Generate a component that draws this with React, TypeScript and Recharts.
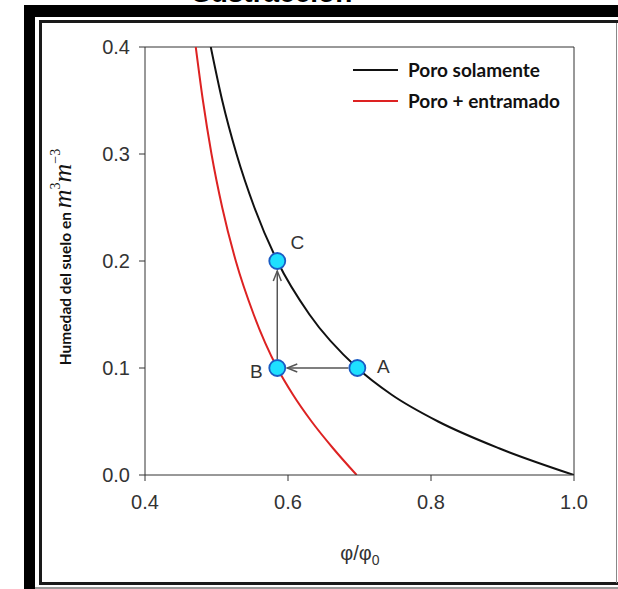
import { ComposedChart, Line, Scatter, XAxis, YAxis, ReferenceLine } from "recharts";

// curve samples (phi/phi0 vs soil moisture)
const blackPhi = [0.492, 0.508, 0.528, 0.553, 0.585, 0.63, 0.697, 0.745, 0.81, 0.895, 1.0];
const blackTheta = [0.4, 0.35, 0.3, 0.25, 0.2, 0.15, 0.1, 0.075, 0.05, 0.025, 0.0];
const redPhi = [0.471, 0.481, 0.493, 0.508, 0.527, 0.552, 0.585, 0.607, 0.633, 0.663, 0.696];
const redTheta = [0.4, 0.35, 0.3, 0.25, 0.2, 0.15, 0.1, 0.075, 0.05, 0.025, 0.0];

const pointNames = ["A", "B", "C"];
const pointPhi = [0.697, 0.585, 0.585];
const pointTheta = [0.1, 0.1, 0.2];

const arrowFrom = ["A", "B"];
const arrowTo = ["B", "C"];

const xTicks = [0.4, 0.6, 0.8, 1.0];
const yTicks = [0, 0.1, 0.2, 0.3, 0.4];

const seriesNames = ["Poro solamente", "Poro + entramado"];
const seriesColors = ["#111111", "#dd2222"];

const toRows = (xs: number[], ys: number[]) =>
  xs.map((x, i) => ({ x, y: ys[i] })).sort((a, b) => a.x - b.x);

const blackData = toRows(blackPhi, blackTheta);
const redData = toRows(redPhi, redTheta);
const points = pointNames.map((name, i) => ({ name, x: pointPhi[i], y: pointTheta[i] }));
const pointOf = (n: string) => points.find((p) => p.name === n)!;

const labelOffset: Record<string, [number, number]> = {
  A: [26, -2],
  B: [-21, 3],
  C: [20, -19],
};

const font = "'Liberation Sans', Arial, sans-serif";
const serif = "'Liberation Serif', serif";

const PointShape = (props: any) => {
  const { cx, cy, payload } = props;
  const off = labelOffset[payload.name];
  return (
    <g>
      <circle cx={cx} cy={cy} r={8} fill="#1ee0ff" stroke="#1a5cc4" strokeWidth={1.8} />
      <text
        x={cx + off[0]}
        y={cy + off[1]}
        textAnchor="middle"
        dominantBaseline="central"
        fontSize={19}
        fontFamily={font}
        fill="#333"
      >
        {payload.name}
      </text>
    </g>
  );
};

const Arrow = (props: any) => {
  const { x1, y1, x2, y2 } = props;
  const dx = x2 - x1;
  const dy = y2 - y1;
  const len = Math.hypot(dx, dy) || 1;
  const ux = dx / len;
  const uy = dy / len;
  const sx = x1 + ux * 9;
  const sy = y1 + uy * 9;
  const ex = x2 - ux * 10;
  const ey = y2 - uy * 10;
  const hx = ex - ux * 10;
  const hy = ey - uy * 10;
  const px = -uy * 4;
  const py = ux * 4;
  return (
    <g>
      <line x1={sx} y1={sy} x2={ex} y2={ey} stroke="#555" strokeWidth={1.5} />
      <polyline
        points={`${hx + px},${hy + py} ${ex},${ey} ${hx - px},${hy - py}`}
        fill="none"
        stroke="#555"
        strokeWidth={1.5}
      />
    </g>
  );
};

const YLabel = () => (
  <text
    x={71}
    y={257}
    transform="rotate(-90, 71, 257)"
    textAnchor="middle"
    fill="#111"
    fontFamily="Lato, 'Open Sans', sans-serif"
    fontWeight={700}
    fontSize={15.5}
  >
    Humedad del suelo en{" "}
    <tspan fontFamily={serif} fontStyle="italic" fontWeight={400} fontSize={26}>
      m
    </tspan>
    <tspan fontFamily={serif} fontWeight={400} fontSize={14} dy={-11}>
      3
    </tspan>
    <tspan fontFamily={serif} fontStyle="italic" fontWeight={400} fontSize={26} dy={11}>
      m
    </tspan>
    <tspan fontFamily={serif} fontWeight={400} fontSize={14} dy={-11}>
      −3
    </tspan>
  </text>
);

const XLabel = () => (
  <text x={360} y={560} textAnchor="middle" fill="#333" fontFamily={font} fontSize={20}>
    φ/φ
    <tspan fontSize={14} dy={5}>
      0
    </tspan>
  </text>
);

const LegendBox = () => (
  <div
    style={{
      position: "absolute",
      left: 353,
      top: 54,
      fontFamily: "Lato, 'Open Sans', sans-serif",
      fontWeight: 700,
      fontSize: 19,
      color: "#111",
    }}
  >
    {seriesNames.map((n, i) => (
      <div key={n} style={{ display: "flex", alignItems: "center", height: 31 }}>
        <span style={{ display: "inline-block", width: 45, height: 2, background: seriesColors[i], marginRight: 10 }} />
        <span>{n}</span>
      </div>
    ))}
  </div>
);

export default function App() {
  return (
    <div style={{ position: "absolute", left: 0, top: 0, width: 618, height: 589, overflow: "hidden", background: "#fff" }}>
      <div
        style={{
          position: "absolute",
          left: 192,
          top: -21,
          fontFamily: font,
          fontWeight: 700,
          fontSize: 28,
          lineHeight: "28px",
          color: "#000",
        }}
      >
        Sustracción
      </div>
      <div style={{ position: "absolute", left: 24, top: 5, width: 620, height: 600, background: "#000" }} />
      <div style={{ position: "absolute", left: 35, top: 17, width: 600, height: 570, background: "#fff" }} />
      <div style={{ position: "absolute", left: 35, top: 587, width: 600, height: 2, background: "#999" }} />
      <div
        style={{
          position: "absolute",
          left: 39,
          top: 20,
          width: 600,
          height: 565,
          borderTop: "3px solid #1a1a1a",
          borderLeft: "3px solid #1a1a1a",
          borderBottom: "3px solid #1a1a1a",
          boxSizing: "border-box",
          background: "#fff",
        }}
      />
      <div style={{ position: "absolute", left: 616, top: 23, width: 1, height: 560, background: "#888" }} />
      <div style={{ position: "absolute", left: 0, top: 0 }}>
        <ComposedChart width={618} height={589} margin={{ top: 47, right: 44, bottom: 84, left: 85 }}>
          <XAxis
            type="number"
            dataKey="x"
            domain={[0.4, 1.0]}
            ticks={xTicks}
            tickFormatter={(v: number) => v.toFixed(1)}
            tick={{ fontSize: 20, fill: "#333", fontFamily: font }}
            tickSize={6}
            tickMargin={14}
            stroke="#333"
            height={30}
            allowDataOverflow
            label={{ content: XLabel }}
          />
          <YAxis
            type="number"
            dataKey="y"
            domain={[0, 0.4]}
            ticks={yTicks}
            tickFormatter={(v: number) => v.toFixed(1)}
            tick={{ fontSize: 20, fill: "#333", fontFamily: font }}
            tickSize={6}
            tickMargin={9}
            stroke="#333"
            width={60}
            allowDataOverflow
            label={{ content: YLabel }}
          />
          <ReferenceLine y={0.4} stroke="#333" />
          <ReferenceLine x={1.0} stroke="#333" />
          <Line
            data={blackData}
            dataKey="y"
            name={seriesNames[0]}
            type="monotone"
            stroke={seriesColors[0]}
            strokeWidth={2}
            dot={false}
            activeDot={false}
            isAnimationActive={false}
          />
          <Line
            data={redData}
            dataKey="y"
            name={seriesNames[1]}
            type="monotone"
            stroke={seriesColors[1]}
            strokeWidth={2}
            dot={false}
            activeDot={false}
            isAnimationActive={false}
          />
          {arrowFrom.map((f, i) => {
            const a = pointOf(f);
            const b = pointOf(arrowTo[i]);
            return (
              <ReferenceLine
                key={f + arrowTo[i]}
                segment={[
                  { x: a.x, y: a.y },
                  { x: b.x, y: b.y },
                ]}
                shape={Arrow}
              />
            );
          })}
          <Scatter data={points} dataKey="y" shape={PointShape} isAnimationActive={false} />
        </ComposedChart>
      </div>
      <LegendBox />
    </div>
  );
}
